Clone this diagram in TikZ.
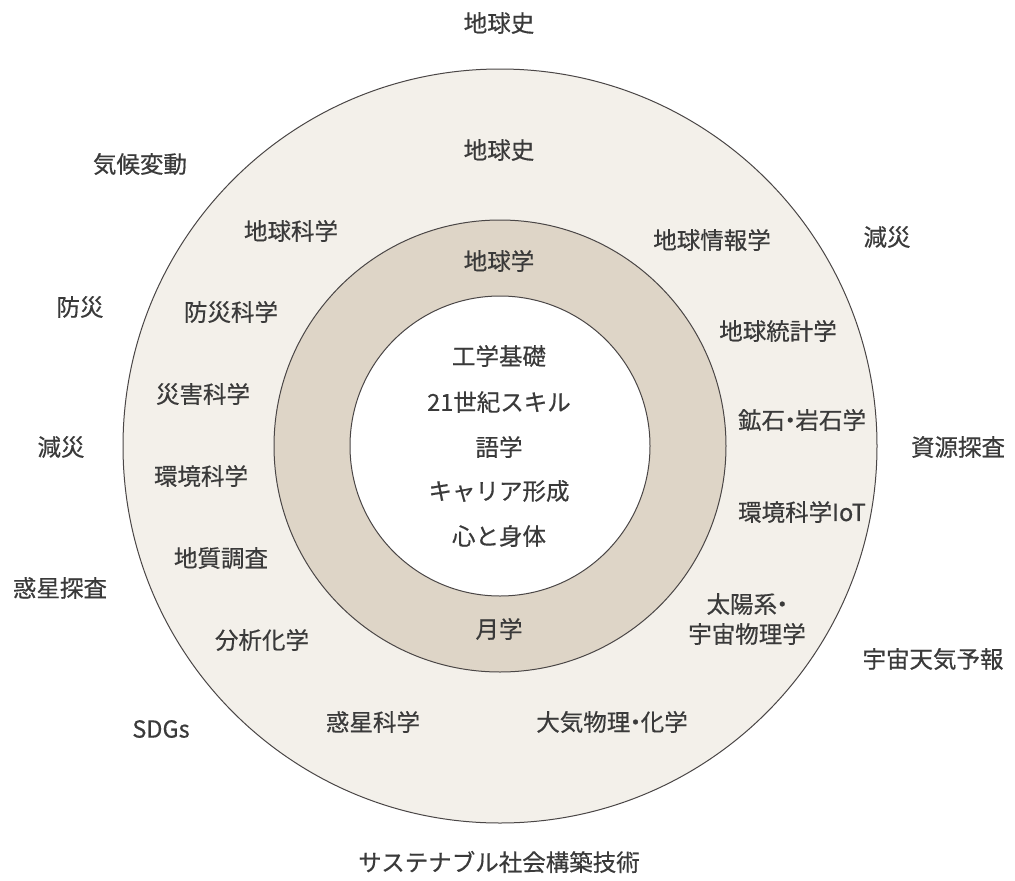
\documentclass[tikz,border=0pt]{standalone}
\usepackage{fontspec}
\newfontfamily\jp[FakeBold=0.45]{Noto Sans CJK JP}
\definecolor{outerfill}{HTML}{F3F0EA}
\definecolor{midfill}{HTML}{DED5C7}
\definecolor{ringline}{HTML}{4A4646}
\definecolor{txt}{HTML}{3A3A3A}
\newcommand{\ndot}{\kern-0.28em・\kern-0.28em}
\begin{document}
\begin{tikzpicture}[x=1pt,y=-1pt,
  lbl/.style={inner sep=0pt,text=txt,font=\jp\fontsize{23.5}{30}\selectfont,align=center},
  ring/.style={draw=ringline,line width=1pt}]
\useasboundingbox (0,0) rectangle (1015,881);
\fill[white] (0,0) rectangle (1015,881);
\coordinate (c) at (500,446);
\node[ring,circle,fill=outerfill,minimum size=754pt,inner sep=0pt] (outer) at (c) {};
\node[ring,circle,fill=midfill,minimum size=452pt,inner sep=0pt] (mid) at (c) {};
\node[ring,circle,fill=white,minimum size=300pt,inner sep=0pt] (inner) at (c) {};
% outside labels
\node[lbl] (o1) at (499,23) {地球史};
\node[lbl] (o2) at (140,164) {気候変動};
\node[lbl] (o3) at (887,237) {減災};
\node[lbl] (o4) at (80,307) {防災};
\node[lbl] (o5) at (61,447) {減災};
\node[lbl] (o6) at (958,447) {資源探査};
\node[lbl] (o7) at (60,588) {惑星探査};
\node[lbl] (o8) at (933,659) {宇宙天気予報};
\node[lbl] (o9) at (161,729) {SDGs};
\node[lbl] (o10) at (499,862) {サステナブル社会構築技術};
% outer ring labels
\node[lbl] (r1) at (499,150) {地球史};
\node[lbl] (r2) at (291,231) {地球科学};
\node[lbl] (r3) at (712,240) {地球情報学};
\node[lbl] (r4) at (231,312) {防災科学};
\node[lbl] (r5) at (778,331) {地球統計学};
\node[lbl] (r6) at (203,394) {災害科学};
\node[lbl] (r7) at (802,420) {鉱石\ndot 岩石学};
\node[lbl] (r8) at (201,476) {環境科学};
\node[lbl] (r9) at (802,512) {環境科学IoT};
\node[lbl] (r10) at (221,558) {地質調査};
\node[lbl] (r11) at (747,619) {太陽系\ndot\\宇宙物理学};
\node[lbl] (r12) at (262,640) {分析化学};
\node[lbl] (r13) at (373,722) {惑星科学};
\node[lbl] (r14) at (612,722) {大気物理\ndot 化学};
% middle ring labels
\node[lbl] (m1) at (499,261) {地球学};
\node[lbl] (m2) at (499,629) {月学};
% inner labels
\node[lbl] (i1) at (499,356) {工学基礎};
\node[lbl] (i2) at (499,402) {21世紀スキル};
\node[lbl] (i3) at (499,447) {語学};
\node[lbl] (i4) at (499,491) {キャリア形成};
\node[lbl] (i5) at (499,536) {心と身体};
\end{tikzpicture}
\end{document}
